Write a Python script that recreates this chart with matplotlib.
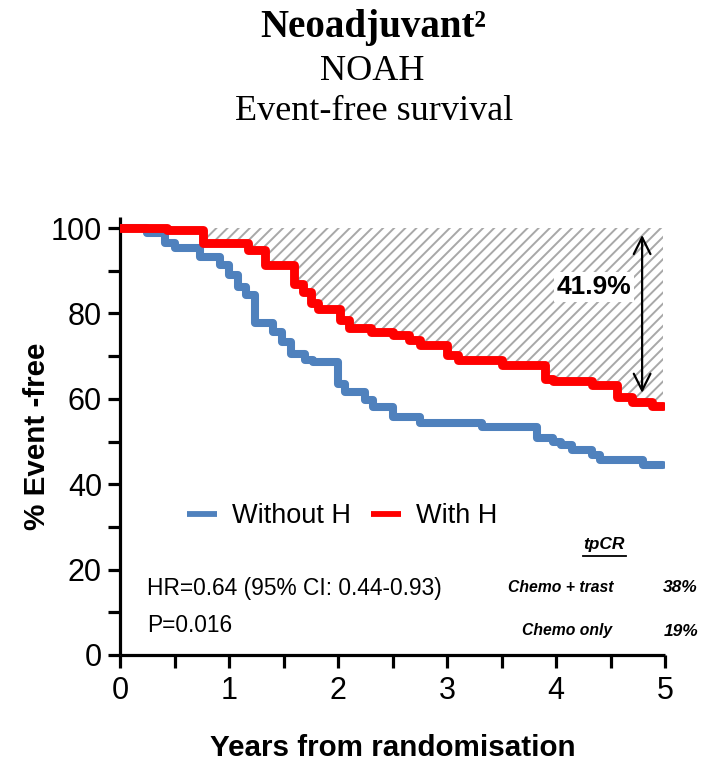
import matplotlib
matplotlib.use("Agg")
import matplotlib.pyplot as plt
from matplotlib import font_manager as fm
from matplotlib.lines import Line2D

# ---------------- data ----------------
with_h_t = [0.00, 0.43, 0.76, 1.17, 1.33, 1.60, 1.68, 1.75, 1.82, 2.02, 2.10, 2.30, 2.50, 2.65,
            2.75, 3.00, 3.10, 3.50, 3.90, 3.97, 4.33, 4.56, 4.70, 4.88, 4.98]
with_h_v = [100.0, 99.5, 96.5, 94.8, 91.3, 87.0, 85.0, 82.5, 81.0, 78.5, 76.6, 75.6, 74.9, 73.8,
            72.6, 70.3, 69.0, 68.0, 64.7, 64.2, 63.2, 60.4, 59.3, 58.3, 58.3]
without_h_t = [0.00, 0.25, 0.41, 0.50, 0.73, 0.92, 1.00, 1.08, 1.16, 1.24, 1.40, 1.49, 1.57, 1.70,
               1.77, 2.00, 2.06, 2.25, 2.32, 2.50, 2.75, 3.32, 3.83, 3.97, 4.05, 4.15, 4.33,
               4.40, 4.80, 4.98]
without_h_v = [100.0, 98.8, 96.5, 95.3, 93.2, 91.3, 89.0, 86.2, 84.3, 77.8, 75.6, 73.3, 70.5, 69.0,
               68.6, 63.5, 61.6, 59.7, 58.1, 55.7, 54.3, 53.4, 50.8, 49.9, 49.2, 48.0, 46.8,
               45.7, 44.5, 44.5]
series_labels = ["Without H", "With H"]
x_ticks = [0, 1, 2, 3, 4, 5]
y_ticks = [0, 20, 40, 60, 80, 100]
diff_label = "41.9%"
diff_top, diff_bottom, diff_x = 98.4, 61.4, 4.79
hr_text = "HR=0.64 (95% CI: 0.44-0.93)"
p_text = "P=0.016"
tpcr_rows = [("Chemo + trast", "38%"), ("Chemo only", "19%")]

# ---------------- fonts ----------------
names = {f.name for f in fm.fontManager.ttflist}
HAS_NARROW = "Liberation Sans Narrow" in names
SANS = "Liberation Sans"
NARROW = "Liberation Sans Narrow" if HAS_NARROW else SANS
nscale = 1.0 if HAS_NARROW else 0.82
SERIF = "Liberation Serif"

plt.rcParams["font.family"] = [SANS, "DejaVu Sans"]
plt.rcParams["hatch.linewidth"] = 1.4
plt.rcParams["hatch.color"] = "#a8a8a8"

W, H = 703, 766
fig = plt.figure(figsize=(W / 100, H / 100), dpi=100)

def fx(px):
    return px / W

def fy(py):
    return 1 - py / H

ax = fig.add_axes([fx(120), fy(655), fx(665) - fx(120), fy(217) - fy(655)])

blue = "#4F81BD"
red = "#FF0000"

# hatched area between 100% and the "with H" curve
ax.fill_between(with_h_t, with_h_v, 100, step="post", facecolor="none",
                edgecolor="#a8a8a8", hatch="///", linewidth=0, zorder=1)

ax.step(without_h_t, without_h_v, where="post", color=blue, lw=5.8,
        solid_joinstyle="round", solid_capstyle="round", zorder=3, label=series_labels[0])
ax.step(with_h_t, with_h_v, where="post", color=red, lw=6.4,
        solid_joinstyle="round", solid_capstyle="round", zorder=4, label=series_labels[1])

ax.set_xlim(0, 5)
ax.set_ylim(0, 102.6)

ax.set_xticks([i * 0.5 for i in range(11)])
ax.set_xticklabels([str(int(v)) if v == int(v) else "" for v in [i * 0.5 for i in range(11)]])
ax.set_yticks([i * 10 for i in range(11)])
ax.set_yticklabels([str(v) if v in y_ticks else "" for v in [i * 10 for i in range(11)]])

for s in ["top", "right"]:
    ax.spines[s].set_visible(False)
for s in ["left", "bottom"]:
    ax.spines[s].set_linewidth(2.3)
    ax.spines[s].set_capstyle("butt")
ax.tick_params(axis="both", width=2.3, length=9, labelsize=22, pad=4)
ax.tick_params(axis="x", pad=6)
for lab in ax.get_xticklabels() + ax.get_yticklabels():
    lab.set_fontfamily(SANS)

ax.set_xlabel("Years from randomisation", fontsize=26 * nscale, fontweight="bold",
              fontfamily=NARROW, labelpad=20)
ax.set_ylabel("% Event -free", fontsize=26 * nscale, fontweight="bold",
              fontfamily=NARROW, labelpad=0)

# arrow and difference label
ax.annotate("", xy=(diff_x, diff_top), xytext=(diff_x, diff_bottom),
            arrowprops=dict(arrowstyle="<->,head_length=1.2,head_width=0.6", lw=1.6,
                            color="black", shrinkA=0, shrinkB=0, mutation_scale=10),
            zorder=5)
ax.text(4.35, 86.2, diff_label, ha="center", va="center", fontsize=19, fontweight="bold",
        fontfamily=SANS, zorder=6,
        bbox=dict(facecolor="white", edgecolor="none", pad=2))

# legend
leg = ax.legend(loc="center left", bbox_to_anchor=(0.123, 0.317), ncol=2, frameon=False,
                handlelength=1.1, handletextpad=0.55,
                columnspacing=0.75, borderpad=0, borderaxespad=0,
                prop=dict(family=NARROW, size=19.5))
for ln in leg.get_lines():
    ln.set_linewidth(4.2)
    ln.set_solid_capstyle("butt")

# HR text
fig.text(fx(147), fy(588), hr_text, ha="left", va="center", fontsize=20 * nscale, fontfamily=NARROW)
fig.text(fx(147), fy(625), p_text, ha="left", va="center", fontsize=20 * nscale, fontfamily=NARROW)

# tpCR block
fig.text(fx(604), fy(544), "tpCR", ha="center", va="center", fontsize=12.5,
         fontweight="bold", fontstyle="italic", fontfamily=NARROW)
fig.add_artist(Line2D([fx(583), fx(626)], [fy(556), fy(556)], color="black", lw=1.3))
row_y = [588, 631]
row_x = [561, 567]
for (name, val), y, x in zip(tpcr_rows, row_y, row_x):
    fig.text(fx(x), fy(y), name, ha="center", va="center", fontsize=11.3,
             fontweight="bold", fontstyle="italic", fontfamily=NARROW)
    fig.text(fx(698), fy(y), val, ha="right", va="center", fontsize=12.5,
             fontweight="bold", fontstyle="italic", fontfamily=NARROW)

# titles
fig.text(fx(373), fy(27), "Neoadjuvant²", ha="center", va="center", fontsize=28,
         fontweight="bold", fontfamily=SERIF)
fig.text(fx(372), fy(72), "NOAH", ha="center", va="center", fontsize=26, fontfamily=SERIF)
fig.text(fx(374), fy(112), "Event-free survival", ha="center", va="center", fontsize=26,
         fontfamily=SERIF)

fig.savefig("out.png", dpi=100)
